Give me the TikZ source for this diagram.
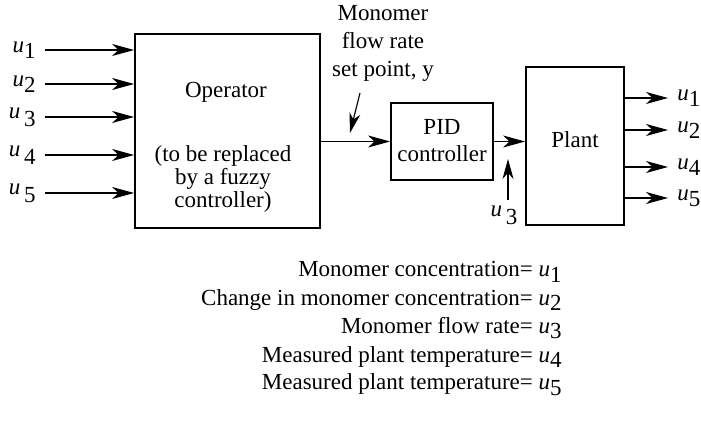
\documentclass[tikz,border=0pt]{standalone}
\usepackage{fontspec}
\setmainfont{Liberation Serif}
\usetikzlibrary{arrows.meta}
\newcommand{\usub}[1]{\textit{u}\raisebox{-0.55ex}{#1}}
\newcommand{\usubg}[1]{\textit{u}\,\raisebox{-0.75ex}{#1}}
\begin{document}
\begin{tikzpicture}[x=0.5pt, y=-0.5pt,
    font=\fontsize{11.5}{11.5}\selectfont,
    block/.style={draw, line width=0.9pt, inner sep=0pt},
    sig/.style={line width=0.6pt, -{Stealth[length=11pt, width=6pt, inset=3.2pt]}},
    lbl/.style={inner sep=0pt}]
    \useasboundingbox (0,0) rectangle (701,426);

    % blocks
    \node[block, minimum width=92.5pt, minimum height=97pt] (op) at (227.5,131) {};
    \node[block, minimum width=51pt, minimum height=38.5pt] (pid) at (442,141.5) {};
    \node[block, minimum width=49pt, minimum height=79pt] (plant) at (575,146) {};

    % block texts
    \node[lbl] (optxt) at (226,92) {Operator};
    \node[lbl, align=center] (opnote) at (223,179) {(to be replaced\\by a fuzzy\\controller)};
    \node[lbl, align=center, font=\fontsize{11.5}{13.5}\selectfont] (pidtxt) at (442,141) {PID\\controller};
    \node[lbl] (planttxt) at (575,140) {Plant};

    % inputs of the operator
    \foreach \i/\y/\t in {1/50/\usub{1}, 2/84/\usub{2}, 3/117/\usubg{3}, 4/155/\usubg{4}, 5/193/\usubg{5}} {
        \node[lbl, anchor=east] (in\i) at (36,\y) {\t};
        \coordinate (a\i) at (45,\y);
        \draw[sig] (a\i) -- (op.west |- a\i);
    }

    % operator -> PID -> plant
    \draw[sig] (op.east |- pid.west) -- (pid.west);
    \draw[sig] (pid.east) -- (plant.west |- pid.east);

    % set point note
    \node[lbl, align=center, font=\fontsize{11.5}{14}\selectfont] (sp) at (383,43) {Monomer\\flow rate\\set point, y};
    \coordinate (spa) at (360,93);
    \coordinate (spb) at (350,133);
    \draw[sig, -{Stealth[length=10pt, width=5.5pt, inset=3pt]}] (spa) -- (spb);

    % disturbance u3
    \node[lbl] (u3) at (504,215) {\usubg{3}};
    \coordinate (u3b) at (508,159);
    \draw[sig, -{Stealth[length=10pt, width=5.5pt, inset=3pt]}] (508,200) -- (u3b);

    % plant outputs
    \foreach \i/\y/\t in {1/98/\usub{1}, 2/130/\usub{2}, 4/167/\usub{4}, 5/198/\usub{5}} {
        \coordinate (b\i) at (668,\y);
        \draw[sig] (plant.east |- b\i) -- (b\i);
        \node[lbl, anchor=west] (out\i) at (677,\y) {\t};
    }

    % legend
    \node[lbl, anchor=east] (l1) at (562,272) {Monomer concentration= \usub{1}};
    \node[lbl, anchor=east] (l2) at (562,300) {Change in monomer concentration= \usub{2}};
    \node[lbl, anchor=east] (l3) at (562,328) {Monomer flow rate= \usub{3}};
    \node[lbl, anchor=east] (l4) at (562,357) {Measured plant temperature= \usub{4}};
    \node[lbl, anchor=east] (l5) at (562,385) {Measured plant temperature= \usub{5}};
\end{tikzpicture}
\end{document}
